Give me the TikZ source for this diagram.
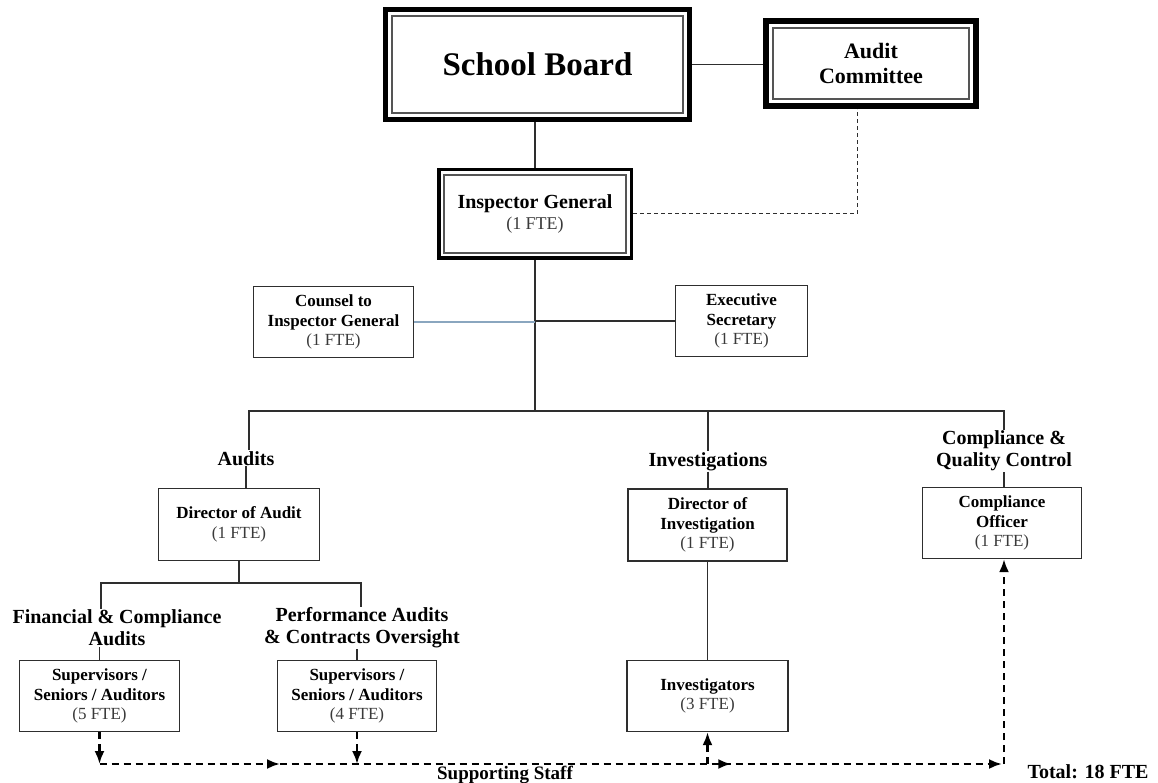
\documentclass[tikz,border=0pt]{standalone}
\usepackage{fontspec}
\setmainfont{Liberation Serif}
\usetikzlibrary{arrows.meta,decorations.markings}
\definecolor{ftegray}{HTML}{3A3A3A}
\definecolor{linegray}{HTML}{2E2E2E}
\definecolor{innergray}{HTML}{555555}
\definecolor{counselblue}{HTML}{8AA6BF}
\newcommand{\fte}[1]{{\mdseries\color{ftegray}#1}}
\tikzset{
  bigbox/.style={draw=black, align=center, inner sep=2pt},
  smallbox/.style={draw=linegray, line width=1.3pt, align=center, inner sep=1pt,
    font=\fontsize{17}{19.5}\selectfont\bfseries},
  lab/.style={align=center, inner sep=1pt, font=\fontsize{20}{22}\selectfont\bfseries},
  conn/.style={draw=linegray, line width=1.2pt},
  suppline/.style={line width=2.4pt, dash pattern=on 7pt off 5pt},
  supparrow/.style={suppline, -{Latex[length=13pt,width=10pt]}},
}
\begin{document}
\begin{tikzpicture}[x=1pt,y=-1pt]
\useasboundingbox[fill=white] (0,0) rectangle (1158,783);

% top level
\node[bigbox, line width=5pt, minimum width=304pt, minimum height=110pt,
  font=\fontsize{33}{36}\selectfont\bfseries] (sb) at (537.5,64.5) {School Board};
\draw[line width=1.4pt, draw=innergray] ([shift={(9,9)}]sb.north west) rectangle ([shift={(-9,-9)}]sb.south east);

\node[bigbox, line width=6pt, minimum width=210pt, minimum height=85pt,
  font=\fontsize{22}{25}\selectfont\bfseries] (ac) at (871,63.5) {Audit\\Committee};
\draw[line width=1.4pt, draw=innergray] ([shift={(10,10)}]ac.north west) rectangle ([shift={(-10,-10)}]ac.south east);

\node[bigbox, line width=3.5pt, minimum width=192.5pt, minimum height=88.5pt,
  font=\fontsize{20}{21}\selectfont\bfseries] (ig) at (535,214)
  {Inspector General\\\fte{\fontsize{18}{21}\selectfont(1 FTE)}};
\draw[line width=1.3pt, draw=innergray] ([shift={(7,7)}]ig.north west) rectangle ([shift={(-7,-7)}]ig.south east);

% staff
\node[smallbox, minimum width=160pt, minimum height=71pt] (cig) at (333.5,322)
  {Counsel to\\Inspector General\\\fte{(1 FTE)}};
\node[smallbox, minimum width=132pt, minimum height=71pt] (es) at (741.5,321)
  {Executive\\Secretary\\\fte{(1 FTE)}};

% divisions
\node[lab, anchor=base] (audl) at (246,465) {Audits};
\node[lab, anchor=base] (invl) at (708,466) {Investigations};
\node[lab] (cqcl) at (1004,451) {Compliance \&\\Quality Control};

\node[smallbox, minimum width=161pt, minimum height=72pt] (doa) at (239,524.5)
  {Director of Audit\\\fte{(1 FTE)}};
\node[smallbox, minimum width=159pt, minimum height=72pt] (doi) at (707.5,525)
  {Director of\\Investigation\\\fte{(1 FTE)}};
\node[smallbox, minimum width=159pt, minimum height=71pt] (co) at (1002,523)
  {Compliance\\Officer\\\fte{(1 FTE)}};

\node[lab] (fcal) at (117,628) {Financial \& Compliance\\Audits};
\node[lab] (pal) at (362,628) {Performance Audits\\\& Contracts Oversight};

\node[smallbox, minimum width=160pt, minimum height=71pt] (b1) at (99.5,696)
  {Supervisors /\\Seniors / Auditors\\\fte{(5 FTE)}};
\node[smallbox, minimum width=159pt, minimum height=71pt] (b2) at (357,696)
  {Supervisors /\\Seniors / Auditors\\\fte{(4 FTE)}};
\node[smallbox, minimum width=161pt, minimum height=71pt] (invs) at (707.5,696)
  {Investigators\\\fte{(3 FTE)}};

\node[lab, anchor=base, font=\fontsize{19}{21}\selectfont\bfseries] (ss) at (505,779) {Supporting Staff};
\node[lab, anchor=base] (tot) at (1088,778) {Total: 18 FTE};

% coordinates
\coordinate (acd) at (857,0);
\coordinate (bar) at (0,411);
\coordinate (bar2) at (0,583);
\coordinate (fx) at (101,0);
\coordinate (px) at (361,0);
\coordinate (ax) at (249,0);
\coordinate (sline) at (0,764);

% connectors
\draw[conn] (sb.east) -- (sb.east -| ac.west);
\draw[conn] (ig.north) -- (ig.north |- sb.south);
\draw[draw=linegray, line width=1pt, dash pattern=on 4pt off 3pt] (ig.east) -| (acd |- ac.south);
\draw[conn] (ig.south) -- (ig.south |- bar);
\draw[draw=counselblue, line width=1.2pt] (cig.east) -- (cig.east -| ig.south);
\draw[conn] (es.west) -- (es.west -| ig.south);
\draw[conn] (ax |- audl.north) -- (ax |- bar) -- (bar -| cqcl.north) -- (cqcl.north);
\draw[conn] (invl.north) -- (invl.north |- bar);
\draw[conn] (audl.south) -- (audl.south |- doa.north);
\draw[conn] (invl.south) -- (invl.south |- doi.north);
\draw[conn] (cqcl.south) -- (cqcl.south |- co.north);
\draw[conn] (doa.south) -- (doa.south |- bar2);
\draw[conn] (fx |- fcal.north) -- (fx |- bar2) -- (px |- bar2) -- (px |- pal.north);
\draw[conn] (b1.north) -- (b1.north |- fcal.south);
\draw[conn] (b2.north) -- (b2.north |- pal.south);
\draw[conn] (doi.south) -- (invs.north);

% supporting staff dashed arrows
\draw[supparrow] (b1.south) -- (b1.south |- sline);
\draw[supparrow] (b2.south) -- (b2.south |- sline);
\draw[supparrow, postaction={decorate}, decoration={markings,
    mark=at position 0.2 with {\arrow{Latex[length=13pt,width=10pt]}},
    mark=at position 0.7 with {\arrow{Latex[length=13pt,width=10pt]}}}]
  (b1.south |- sline) -- (co.south |- sline);
\draw[supparrow] (invs.south |- sline) -- (invs.south);
\draw[supparrow] ([xshift=2pt]co.south |- sline) -- ([xshift=2pt]co.south);
\end{tikzpicture}
\end{document}
